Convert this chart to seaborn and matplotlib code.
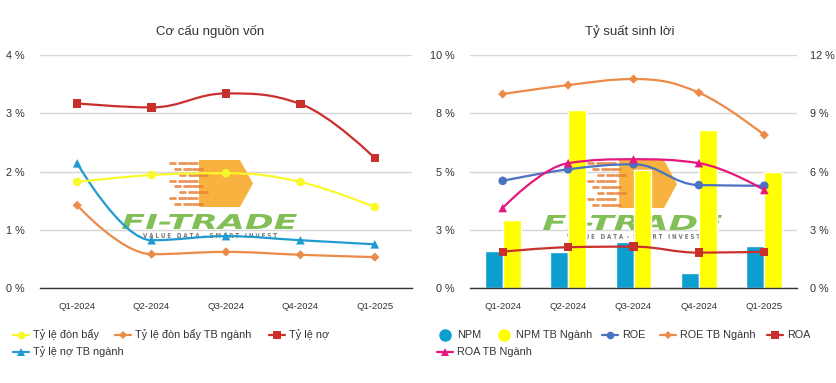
import numpy as np
import pandas as pd
import seaborn as sns
import matplotlib.pyplot as plt
from matplotlib.path import Path
from matplotlib.patches import PathPatch, Polygon
from matplotlib.lines import Line2D
from matplotlib.textpath import TextPath
from matplotlib.font_manager import FontProperties
from matplotlib.transforms import Affine2D

quarters = ['Q1-2024', 'Q2-2024', 'Q3-2024', 'Q4-2024', 'Q1-2025']

# Cơ cấu nguồn vốn (%)
don_bay = [1.82, 1.94, 1.97, 1.82, 1.39]
don_bay_nganh = [1.42, 0.58, 0.62, 0.57, 0.53]
ty_le_no = [3.17, 3.10, 3.34, 3.16, 2.23]
ty_le_no_nganh = [2.14, 0.82, 0.89, 0.82, 0.75]

# Tỷ suất sinh lời (%)
npm = [1.60, 1.56, 1.97, 0.64, 1.80]
npm_nganh = [2.92, 7.64, 5.06, 6.78, 4.98]
roe = [5.52, 6.11, 6.37, 5.30, 5.27]
roe_nganh = [9.99, 10.45, 10.76, 10.06, 7.88]
roa = [1.87, 2.10, 2.13, 1.82, 1.87]
roa_nganh = [4.12, 6.43, 6.63, 6.43, 5.05]

W, H = 836, 383
C_YELLOW = '#f8f82a'
C_ORANGE = '#ec8a48'
C_RED = '#c9302c'
C_BLUE_T = '#1f9bcf'
C_NPM = '#0c9ecf'
C_ROE = '#4a72c0'
C_MAGENTA = '#e6177f'
TXT = '#333333'

sns.set_theme(style='white')
plt.rcParams['font.family'] = ['Liberation Sans', 'DejaVu Sans']


def spline_patch(xs, ys, color, smoothing=1.5):
    # bezier kiểu Highcharts spline, đi qua đúng các điểm dữ liệu
    n = len(xs)
    left, right = [], []
    for i in range(n):
        x, y = xs[i], ys[i]
        if i == 0 or i == n - 1:
            left.append((x, y)); right.append((x, y)); continue
        px_, py_ = xs[i - 1], ys[i - 1]
        nx, ny = xs[i + 1], ys[i + 1]
        d = smoothing + 1
        lcx, lcy = (smoothing * x + px_) / d, (smoothing * y + py_) / d
        rcx, rcy = (smoothing * x + nx) / d, (smoothing * y + ny) / d
        corr = ((rcy - lcy) * (rcx - x)) / (rcx - lcx) + y - rcy
        lcy += corr; rcy += corr
        if lcy > py_ and lcy > y:
            lcy = max(py_, y); rcy = 2 * y - lcy
        elif lcy < py_ and lcy < y:
            lcy = min(py_, y); rcy = 2 * y - lcy
        if rcy > ny and rcy > y:
            rcy = max(ny, y); lcy = 2 * y - rcy
        elif rcy < ny and rcy < y:
            rcy = min(ny, y); lcy = 2 * y - rcy
        left.append((lcx, lcy)); right.append((rcx, rcy))
    verts = [(xs[0], ys[0])]
    codes = [Path.MOVETO]
    for i in range(1, n):
        verts += [right[i - 1], left[i], (xs[i], ys[i])]
        codes += [Path.CURVE4] * 3
    return PathPatch(Path(verts, codes), facecolor='none', edgecolor=color, lw=1.6, zorder=3)


def draw_series(ax, ys, color, marker, ms=32):
    xs = np.arange(len(ys))
    ax.add_patch(spline_patch(list(xs), list(ys), color))
    sns.scatterplot(x=xs, y=ys, marker=marker, color=color, s=ms, edgecolor='none',
                    ax=ax, zorder=4, legend=False)


def px(x, y):
    return x / W, 1 - y / H


def stretched_text(ax, text, x0, x1, ybase, height, color, alpha, bold=True, italic=True):
    prop = FontProperties(family='DejaVu Sans', weight='bold' if bold else 'normal',
                          style='italic' if italic else 'normal')
    tp = TextPath((0, 0), text, size=1, prop=prop)
    ext = tp.get_extents()
    sx = (x1 - x0) / ext.width
    sy = height / ext.height
    tr = Affine2D().translate(-ext.x0, -ext.y0).scale(sx, sy).translate(x0, H - ybase)
    patch = PathPatch(tr.transform_path(tp), facecolor=color, edgecolor='none',
                      alpha=alpha, transform=None, zorder=1.5, clip_on=False)
    ax.add_artist(patch)


def logo(ax, x_hex, x_tip, y_top, y_bot, tx0, tx1, vx0, vx1):
    # watermark FI-TRADE, nằm dưới dữ liệu nhưng trên lưới
    fig = ax.figure
    mid = (y_top + y_bot) / 2
    body_x = x_hex + (x_tip - x_hex) * 0.35
    pts = [px(body_x, y_top), px(x_tip - 13, y_top), px(x_tip, mid),
           px(x_tip - 13, y_bot), px(body_x, y_bot)]
    ax.add_artist(Polygon(pts, closed=True, transform=fig.transFigure, facecolor='#f7aa2a',
                          edgecolor='none', alpha=0.9, zorder=1.4, clip_on=False))
    rows = np.linspace(y_top + 3, y_bot - 3, 8)
    for k, yy in enumerate(rows):
        xa = x_hex + (k % 3) * 5
        for j in range(3):
            x1 = xa + j * 9
            ax.add_artist(Line2D([x1 / W, (x1 + 5 + 2 * j) / W], [1 - yy / H, 1 - yy / H],
                                 transform=fig.transFigure, color='#e8823a', lw=2.0,
                                 alpha=0.85, zorder=1.45, clip_on=False))
    stretched_text(ax, 'FI-TRADE', tx0, tx1, y_bot + 22, 15, '#74b843', 0.9)
    stretched_text(ax, 'V A L U E   D A T A  -  S M A R T   I N V E S T', vx0, vx1,
                   y_bot + 31, 5, '#555555', 0.8, italic=False)


def legend_item(fig, x, y, color, marker, label, line=True, ms=5.5):
    fx, fy = px(x, y)
    if line:
        fig.add_artist(Line2D([(x - 8) / W, (x + 8) / W], [fy, fy], transform=fig.transFigure,
                              color=color, lw=1.6))
    fig.add_artist(Line2D([fx], [fy], transform=fig.transFigure, marker=marker, color=color,
                          markersize=ms, markeredgewidth=0, linestyle=''))
    fig.text((x + 12) / W, fy, label, fontsize=7.8, color=TXT, va='center', ha='left')


def style_axis(ax, ymax, ticks, labels):
    ax.set_facecolor('none')
    ax.set_xlim(-0.5, 4.5)
    ax.set_ylim(0, ymax)
    ax.set_yticks(ticks)
    ax.set_yticklabels(labels)
    ax.grid(axis='y', color='#d6d6d6', lw=1)
    ax.set_axisbelow(True)
    for s in ['top', 'right', 'left']:
        ax.spines[s].set_visible(False)
    ax.spines['bottom'].set_color('#333333')
    ax.spines['bottom'].set_linewidth(1)
    ax.set_xticks(range(len(quarters)))
    ax.set_xticklabels(quarters)
    ax.tick_params(axis='x', length=0, pad=10, labelsize=6.8, labelcolor=TXT)
    ax.tick_params(axis='y', length=0, pad=11, labelsize=7.8, labelcolor=TXT)
    ax.set_xlabel('')
    ax.set_ylabel('')


fig = plt.figure(figsize=(W / 100, H / 100), dpi=100)
fig.patch.set_facecolor('white')

# ---- Cơ cấu nguồn vốn ----
ax1 = fig.add_axes([40 / W, 1 - 288 / H, 372 / W, 233 / H])
draw_series(ax1, don_bay_nganh, C_ORANGE, 'D', 22)
draw_series(ax1, ty_le_no_nganh, C_BLUE_T, '^', 38)
draw_series(ax1, ty_le_no, C_RED, 's', 36)
draw_series(ax1, don_bay, C_YELLOW, 'o', 38)
style_axis(ax1, 4, [0, 1, 2, 3, 4], ['0 %', '1 %', '2 %', '3 %', '4 %'])
fig.text(210 / W, 1 - 32 / H, 'Cơ cấu nguồn vốn', fontsize=9.5, color=TXT, ha='center', va='center')
logo(ax1, 170, 253, 160, 207, 122, 297, 143, 277)

# ---- Tỷ suất sinh lời ----
ax2 = fig.add_axes([470 / W, 1 - 288 / H, 327 / W, 233 / H])
bars = pd.DataFrame({
    'quarter': quarters * 2,
    'series': ['NPM'] * 5 + ['NPM TB Ngành'] * 5,
    'value': npm + npm_nganh,
})
sns.barplot(data=bars, x='quarter', y='value', hue='series', order=quarters,
            hue_order=['NPM', 'NPM TB Ngành'], palette=[C_NPM, '#ffff00'],
            width=0.55, saturation=1, gap=0, legend=False, ax=ax2, zorder=2)
style_axis(ax2, 10, [0, 2.5, 5, 7.5, 10], ['0 %', '3 %', '5 %', '8 %', '10 %'])
logo(ax2, 588, 677, 160, 208, 543, 722, 567, 700)

ax3 = ax2.twinx()
ax3.set_zorder(ax2.get_zorder() + 1)
ax3.patch.set_visible(False)
draw_series(ax3, roe_nganh, C_ORANGE, 'D', 22)
draw_series(ax3, roe, C_ROE, 'o', 38)
draw_series(ax3, roa_nganh, C_MAGENTA, '^', 38)
draw_series(ax3, roa, C_RED, 's', 36)
ax3.set_xlim(-0.5, 4.5)
ax3.set_ylim(0, 12)
ax3.set_yticks([0, 3, 6, 9, 12])
ax3.set_yticklabels(['0 %', '3 %', '6 %', '9 %', '12 %'])
ax3.tick_params(axis='y', length=0, pad=9, labelsize=7.8, labelcolor=TXT)
ax3.grid(False)
for s in ['top', 'right', 'left', 'bottom']:
    ax3.spines[s].set_visible(False)
ax3.set_ylabel('')
fig.text(630 / W, 1 - 32 / H, 'Tỷ suất sinh lời', fontsize=9.5, color=TXT, ha='center', va='center')

# ---- chú thích ----
legend_item(fig, 21, 335, C_YELLOW, 'o', 'Tỷ lệ đòn bẩy')
legend_item(fig, 123, 335, C_ORANGE, 'D', 'Tỷ lệ đòn bẩy TB ngành', ms=4.5)
legend_item(fig, 277, 335, C_RED, 's', 'Tỷ lệ nợ')
legend_item(fig, 21, 352, C_BLUE_T, '^', 'Tỷ lệ nợ TB ngành', ms=6)

legend_item(fig, 445, 335, C_NPM, 'o', 'NPM', line=False, ms=9)
legend_item(fig, 504, 335, '#ffff00', 'o', 'NPM TB Ngành', line=False, ms=9)
legend_item(fig, 610, 335, C_ROE, 'o', 'ROE')
legend_item(fig, 668, 335, C_ORANGE, 'D', 'ROE TB Ngành', ms=4.5)
legend_item(fig, 775, 335, C_RED, 's', 'ROA')
legend_item(fig, 445, 352, C_MAGENTA, '^', 'ROA TB Ngành', ms=6)

fig.savefig('out.png', dpi=100, facecolor='white')
